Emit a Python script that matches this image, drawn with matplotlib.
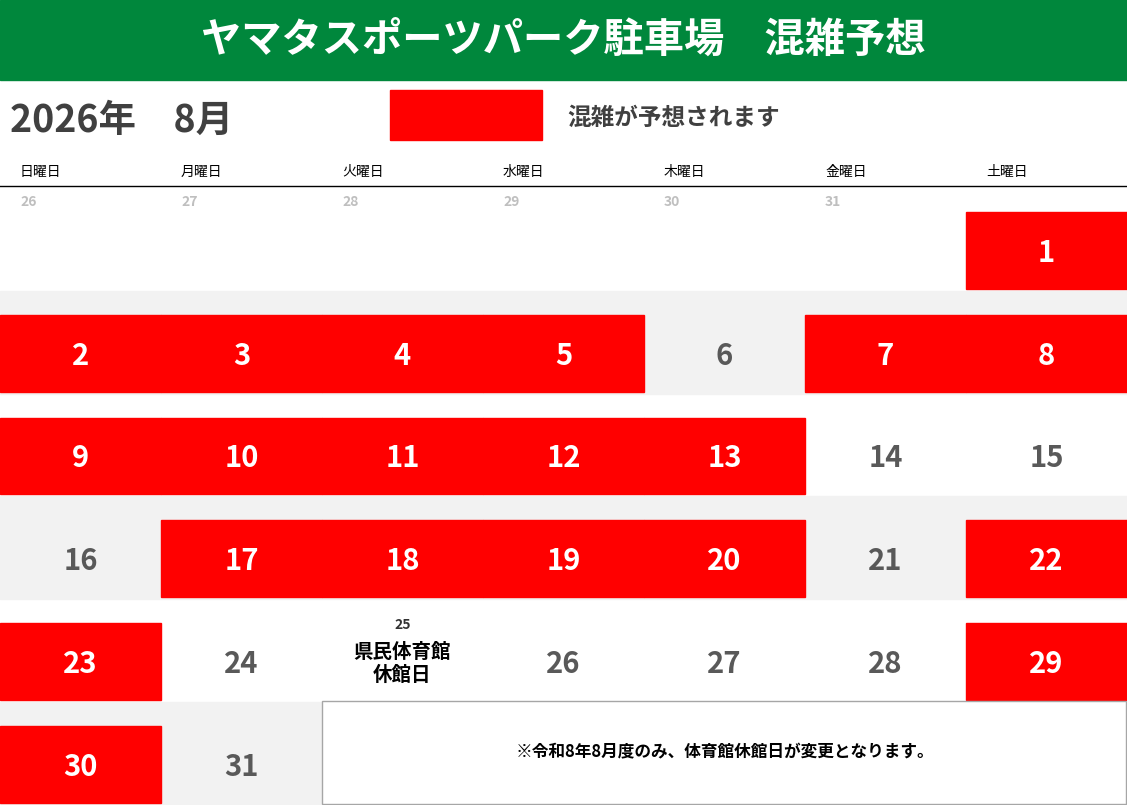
import matplotlib.pyplot as plt
from matplotlib.patches import Rectangle

plt.rcParams['font.family'] = ['Noto Sans CJK JP', 'DejaVu Sans']

title = 'ヤマタスポーツパーク駐車場　混雑予想'
month_label = '2026年　8月'
legend_label = '混雑が予想されます'
weekdays = ['日曜日', '月曜日', '火曜日', '水曜日', '木曜日', '金曜日', '土曜日']
prev_days = [26, 27, 28, 29, 30, 31]
busy_days = [1, 2, 3, 4, 5, 7, 8, 9, 10, 11, 12, 13, 17, 18, 19, 20, 22, 23, 29, 30]
n_days = 31
closed_day = 25
closed_text = '県民体育館\n休館日'
note = '※令和8年8月度のみ、体育館休館日が変更となります。'

W, H = 1127, 805
col_w = W / 7
top, row_h = 188, 102.8
green, red, band, dark = '#00873C', '#FF0000', '#F2F2F2', '#595959'

fig = plt.figure(figsize=(11.27, 8.05), dpi=100)
ax = fig.add_axes([0, 0, 1, 1])
ax.set_xlim(0, W)
ax.set_ylim(H, 0)
ax.axis('off')

# header
ax.add_patch(Rectangle((0, 0), W, 80, color=green))
ax.text(W / 2, 40, title, color='white', fontsize=29, fontweight='bold',
        ha='center', va='center')
ax.text(10, 120, month_label, color='#404040', fontsize=27, fontweight='bold',
        va='center')
ax.add_patch(Rectangle((390, 90), 152, 50, color=red))
ax.text(567, 118, legend_label, color='#404040', fontsize=17, fontweight='bold',
        va='center')
for i, wd in enumerate(weekdays):
    ax.text(i * col_w + 20, 172, wd, fontsize=10, va='center')
ax.plot([0, W], [186, 186], color='black', lw=1)

# row bands
for r in range(6):
    if r % 2 == 1:
        ax.add_patch(Rectangle((0, top + r * row_h), W, row_h, color=band))

# previous month days
for i, d in enumerate(prev_days):
    ax.text(i * col_w + 20, top + 14, str(d), color='#BFBFBF', fontsize=10,
            fontweight='bold', va='center')

# days of month
offset = len(prev_days)
for d in range(1, n_days + 1):
    idx = offset + d - 1
    r, c = divmod(idx, 7)
    x0 = c * col_w
    y0 = top + r * row_h
    cx, cy = x0 + col_w / 2, y0 + row_h * 0.63
    if d in busy_days:
        ax.add_patch(Rectangle((x0, y0 + 24), col_w, row_h - 26, color=red))
        ax.text(cx, cy, str(d), color='white', fontsize=21, fontweight='bold',
                ha='center', va='center')
    elif d == closed_day:
        ax.text(cx, y0 + 26, str(d), color='#333333', fontsize=10,
                fontweight='bold', ha='center', va='center')
        ax.text(cx, cy, closed_text, color='black', fontsize=14,
                fontweight='bold', ha='center', va='center', linespacing=1.2)
    else:
        ax.text(cx, cy, str(d), color=dark, fontsize=21, fontweight='bold',
                ha='center', va='center')

# note box
r, c = divmod(offset + n_days, 7)
nx, ny = c * col_w, top + r * row_h - 1
ax.add_patch(Rectangle((nx, ny), W - nx - 1, row_h, facecolor='white',
                       edgecolor='#A6A6A6', lw=1))
ax.text(nx + (W - nx) / 2, ny + row_h / 2, note, fontsize=12, fontweight='bold',
        ha='center', va='center')

fig.savefig('out.png', dpi=100)
